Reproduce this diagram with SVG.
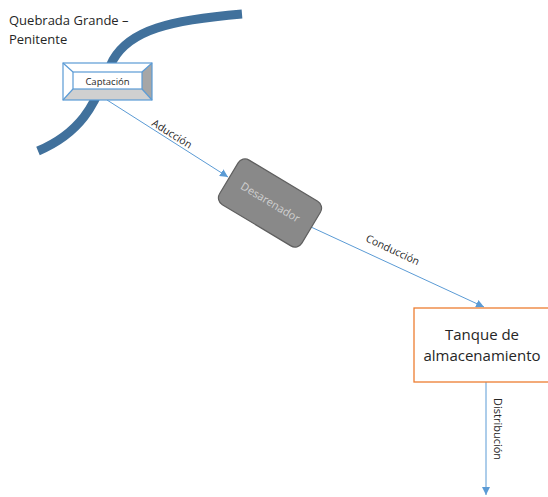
<svg xmlns="http://www.w3.org/2000/svg" width="548" height="497" viewBox="0 0 548 497">
<defs>
<style>
.lbl{font-family:"Open Sans","Liberation Sans",Arial,sans-serif;fill:#262626}
.conn{stroke:#5B9BD5;stroke-width:1;fill:none}
</style>
<marker id="arr" viewBox="0 0 10 10" refX="10" refY="5" markerWidth="8" markerHeight="8" markerUnits="userSpaceOnUse" orient="auto">
<path d="M0,0 L10,5 L0,10 Z" fill="#5B9BD5"/>
</marker>
</defs>
<rect width="548" height="497" fill="#ffffff"/>
<g id="river">
<path d="M242,14 C170,20 130,30 113,60 C98,90 92,128 38,151" fill="none" stroke="#41719C" stroke-width="9"/>
</g>
<g id="title">
<text class="lbl" x="9" y="25" font-size="13">Quebrada Grande –</text>
<text class="lbl" x="9" y="44" font-size="13">Penitente</text>
</g>
<g id="connectors">
<line class="conn" x1="107" y1="100" x2="228" y2="177" marker-end="url(#arr)"/>
<line class="conn" x1="311" y1="227" x2="484" y2="307" marker-end="url(#arr)"/>
<line class="conn" x1="486" y1="382" x2="486" y2="495" marker-end="url(#arr)"/>
<text class="lbl" font-size="10.5" transform="translate(151,125) rotate(32)">Aducción</text>
<text class="lbl" font-size="10.5" transform="translate(365,241) rotate(25)">Conducción</text>
<text class="lbl" font-size="11" transform="translate(494,398) rotate(90)">Distribución</text>
</g>
<g id="captacion">
<rect x="63" y="63" width="89" height="37" fill="#ffffff"/>
<polygon points="152,63 142,72 142,89 152,100" fill="#A6A6A6"/>
<polygon points="63,100 73,89 142,89 152,100" fill="#D0D0D0"/>
<g stroke="#5B9BD5" stroke-width="1.2" fill="none">
<rect x="63" y="63" width="89" height="37"/>
<rect x="73" y="72" width="69" height="17"/>
<line x1="63" y1="63" x2="73" y2="72"/>
<line x1="152" y1="63" x2="142" y2="72"/>
<line x1="63" y1="100" x2="73" y2="89"/>
<line x1="152" y1="100" x2="142" y2="89"/>
</g>
<text class="lbl" x="107.5" y="84.5" font-size="9.5" text-anchor="middle" fill="#404040">Captación</text>
</g>
<g id="desarenador" transform="translate(270,203) rotate(31)">
<rect x="-48" y="-26" width="96" height="52" rx="8" fill="#898989" stroke="#5F5F5F" stroke-width="1.2"/>
<text x="0" y="3" font-size="11" text-anchor="middle" font-family="Open Sans,Liberation Sans,Arial,sans-serif" fill="#D0D0D0">Desarenador</text>
</g>
<g id="tanque">
<rect x="414" y="308" width="140" height="74" fill="#ffffff" stroke="#ED7D31" stroke-width="1.3"/>
<text class="lbl" x="482" y="340" font-size="15" text-anchor="middle">Tanque de</text>
<text class="lbl" x="482" y="361" font-size="15" text-anchor="middle">almacenamiento</text>
</g>
</svg>
